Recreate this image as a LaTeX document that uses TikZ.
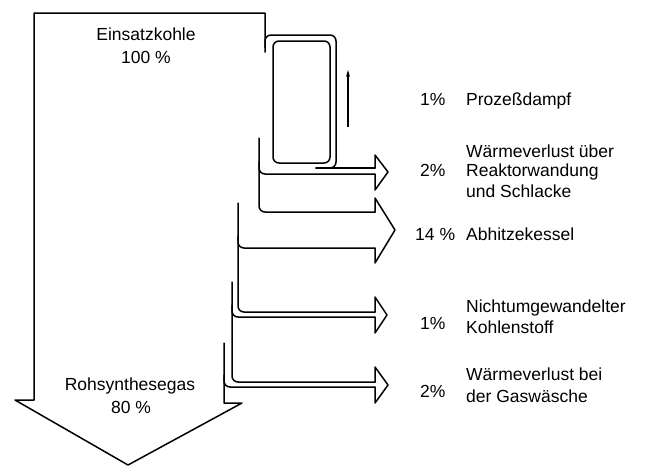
\documentclass[tikz,border=0pt]{standalone}
\usepackage{fontspec}
\setmainfont{Liberation Sans}
\usetikzlibrary{arrows.meta}
\begin{document}
\begin{tikzpicture}[x=1pt,y=-1pt,
  flow/.style={line width=1.5pt, line join=round, line cap=round},
  rc/.style={flow, rounded corners=6pt},
  lbl/.style={inner sep=0pt, font=\fontsize{17.5}{21}\selectfont},
]
\useasboundingbox (0,0) rectangle (645,467);
% main arrow outline
\draw[flow] (265,52) -- (265,13) -- (34,13) -- (34,400) -- (15,400) -- (128,465) -- (242,403) -- (224,403) -- (224,343);
% recirculation loop (Prozessdampf)
\draw[rc] (273,41) rectangle (330,163);
\draw[rc] (265,47) -- (265,35) -- (336,35) -- (336,168) -- (316,168);
\draw[flow] (316,168) -- (375,168);
\draw[line width=1.2pt, -{Stealth[length=7pt,width=4pt]}] (348,127) -- (348,70);
% branch dividing lines
\draw[rc] (259,138) -- (259,212) -- (375,212);
\draw[rc] (259,162) -- (259,174) -- (375,174);
\draw[rc] (238,203) -- (238,312) -- (375,312);
\draw[rc] (238,236) -- (238,248) -- (375,248);
\draw[rc] (232,282) -- (232,382) -- (375,382);
\draw[rc] (232,305) -- (232,317) -- (375,317);
\draw[rc] (224,375) -- (224,387) -- (375,387);
% arrow heads
\draw[flow] (375,168) -- (375,155) -- (388,172) -- (375,190) -- (375,174);
\draw[flow] (375,212) -- (375,198) -- (395,230) -- (375,263) -- (375,248);
\draw[flow] (375,312) -- (375,297) -- (387,315) -- (375,333) -- (375,317);
\draw[flow] (375,382) -- (375,367) -- (388,385) -- (375,403) -- (375,387);
% labels
\node[lbl, anchor=base] (ein) at (146,40) {Einsatzkohle};
\node[lbl, anchor=base] (einp) at (146,63) {100 \%};
\node[lbl, anchor=base] (roh) at (130,390) {Rohsynthesegas};
\node[lbl, anchor=base] (rohp) at (131,413) {80 \%};
\node[lbl, anchor=base west] (pp) at (420,105) {1\%};
\node[lbl, anchor=base west] (pt) at (466,105) {Prozeßdampf};
\node[lbl, anchor=base west] (wa) at (466,157) {Wärmeverlust über};
\node[lbl, anchor=base west] (wp) at (420,176) {2\%};
\node[lbl, anchor=base west] (wb) at (466,176) {Reaktorwandung};
\node[lbl, anchor=base west] (wc) at (466,197) {und Schlacke};
\node[lbl, anchor=base west] (ap) at (415,240) {14 \%};
\node[lbl, anchor=base west] (at) at (466,240) {Abhitzekessel};
\node[lbl, anchor=base west] (na) at (466,312) {Nichtumgewandelter};
\node[lbl, anchor=base west] (np) at (420,329) {1\%};
\node[lbl, anchor=base west] (nb) at (466,333) {Kohlenstoff};
\node[lbl, anchor=base west] (ga) at (466,380) {Wärmeverlust bei};
\node[lbl, anchor=base west] (gp) at (420,397) {2\%};
\node[lbl, anchor=base west] (gb) at (466,402) {der Gaswäsche};
\end{tikzpicture}
\end{document}
